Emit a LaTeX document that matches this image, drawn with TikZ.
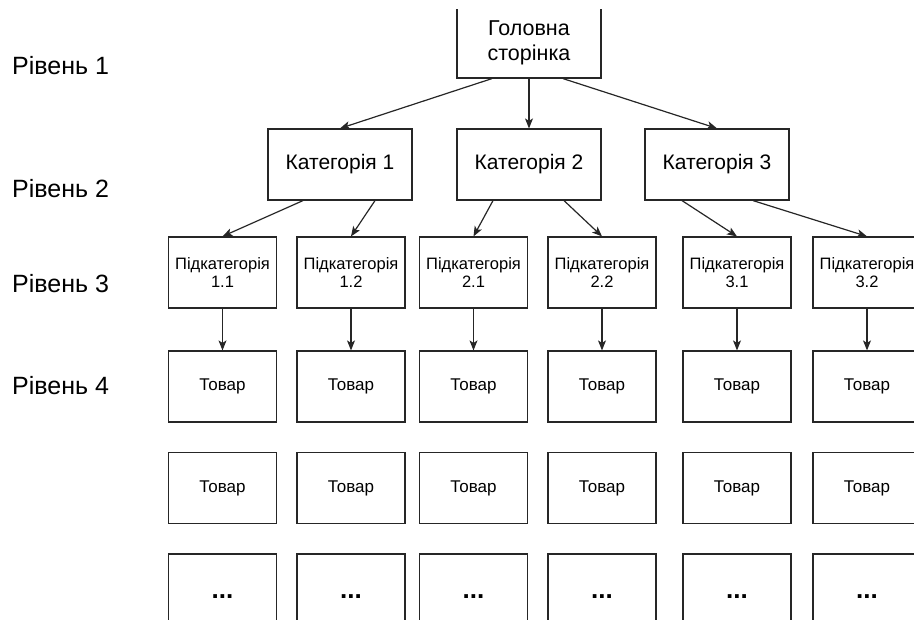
\documentclass[tikz,border=0pt]{standalone}
\usepackage{fontspec}
\setmainfont{Liberation Sans}
\usetikzlibrary{arrows.meta}

\begin{document}
\begin{tikzpicture}[x=1pt,y=-1pt]

\tikzset{level/.style = {anchor=base west,inner sep=0pt,font=\fontsize{25}{30}\selectfont}}
\tikzset{pagebox/.style = {shape=rectangle,draw=black!85,line width=1.2pt,fill=white,align=center,inner sep=0pt}}
\tikzset{mainbox/.style = {pagebox,minimum width=144pt,minimum height=70pt,font=\fontsize{21.5}{25}\selectfont}}
\tikzset{catbox/.style = {pagebox,minimum width=144pt,minimum height=71pt,font=\fontsize{21}{25}\selectfont}}
\tikzset{subbox/.style = {pagebox,minimum width=108pt,minimum height=71pt,font=\fontsize{16.5}{18}\selectfont}}
\tikzset{prodbox/.style = {subbox,font=\fontsize{17}{20}\selectfont}}
\tikzset{dotsbox/.style = {subbox,text height=18pt,text depth=0pt,font=\fontsize{26}{30}\bfseries}}
\tikzset{link/.style = {-{Stealth[length=10pt,width=8pt,inset=2.5pt]},draw=black!85,line width=1.2pt}}

\useasboundingbox (0,0) rectangle (914,620);
\clip (0,10) rectangle (914,620);

%levels
\node[level] (lvl1) at (12,75) {Рівень 1};
\node[level] (lvl2) at (12,198) {Рівень 2};
\node[level] (lvl3) at (12,293) {Рівень 3};
\node[level] (lvl4) at (12,395) {Рівень 4};

%pages
\node[mainbox] (main) at (529,43) {Головна\\сторінка};
\node[catbox] (cat1) at (340,164.5) {Категорія 1};
\node[catbox] (cat2) at (529,164.5) {Категорія 2};
\node[catbox] (cat3) at (717,164.5) {Категорія 3};

\node[subbox] (sub11) at (222.5,272.5) {Підкатегорія\\1.1};
\node[subbox] (sub12) at (351,272.5) {Підкатегорія\\1.2};
\node[subbox] (sub21) at (473.5,272.5) {Підкатегорія\\2.1};
\node[subbox] (sub22) at (602,272.5) {Підкатегорія\\2.2};
\node[subbox] (sub31) at (737,272.5) {Підкатегорія\\3.1};
\node[subbox] (sub32) at (867,272.5) {Підкатегорія\\3.2};

%products
\node[prodbox] (prod11a) at (222.5,386.5) {Товар};
\node[prodbox] (prod12a) at (351,386.5) {Товар};
\node[prodbox] (prod21a) at (473.5,386.5) {Товар};
\node[prodbox] (prod22a) at (602,386.5) {Товар};
\node[prodbox] (prod31a) at (737,386.5) {Товар};
\node[prodbox] (prod32a) at (867,386.5) {Товар};

\node[prodbox] (prod11b) at (222.5,488) {Товар};
\node[prodbox] (prod12b) at (351,488) {Товар};
\node[prodbox] (prod21b) at (473.5,488) {Товар};
\node[prodbox] (prod22b) at (602,488) {Товар};
\node[prodbox] (prod31b) at (737,488) {Товар};
\node[prodbox] (prod32b) at (867,488) {Товар};

\node[dotsbox] (prod11c) at (222.5,589.5) {...};
\node[dotsbox] (prod12c) at (351,589.5) {...};
\node[dotsbox] (prod21c) at (473.5,589.5) {...};
\node[dotsbox] (prod22c) at (602,589.5) {...};
\node[dotsbox] (prod31c) at (737,589.5) {...};
\node[dotsbox] (prod32c) at (867,589.5) {...};

%edges
\draw[link] ([xshift=-37pt]main.south) to (cat1.north);
\draw[link] (main.south) to (cat2.north);
\draw[link] ([xshift=34pt]main.south) to (cat3.north);

\draw[link] ([xshift=-37pt]cat1.south) to (sub11.north);
\draw[link] ([xshift=35pt]cat1.south) to (sub12.north);
\draw[link] ([xshift=-36pt]cat2.south) to (sub21.north);
\draw[link] ([xshift=35pt]cat2.south) to (sub22.north);
\draw[link] ([xshift=-35pt]cat3.south) to (sub31.north);
\draw[link] ([xshift=36pt]cat3.south) to (sub32.north);

\draw[link] (sub11) to (prod11a);
\draw[link] (sub12) to (prod12a);
\draw[link] (sub21) to (prod21a);
\draw[link] (sub22) to (prod22a);
\draw[link] (sub31) to (prod31a);
\draw[link] (sub32) to (prod32a);

\end{tikzpicture}
\end{document}
